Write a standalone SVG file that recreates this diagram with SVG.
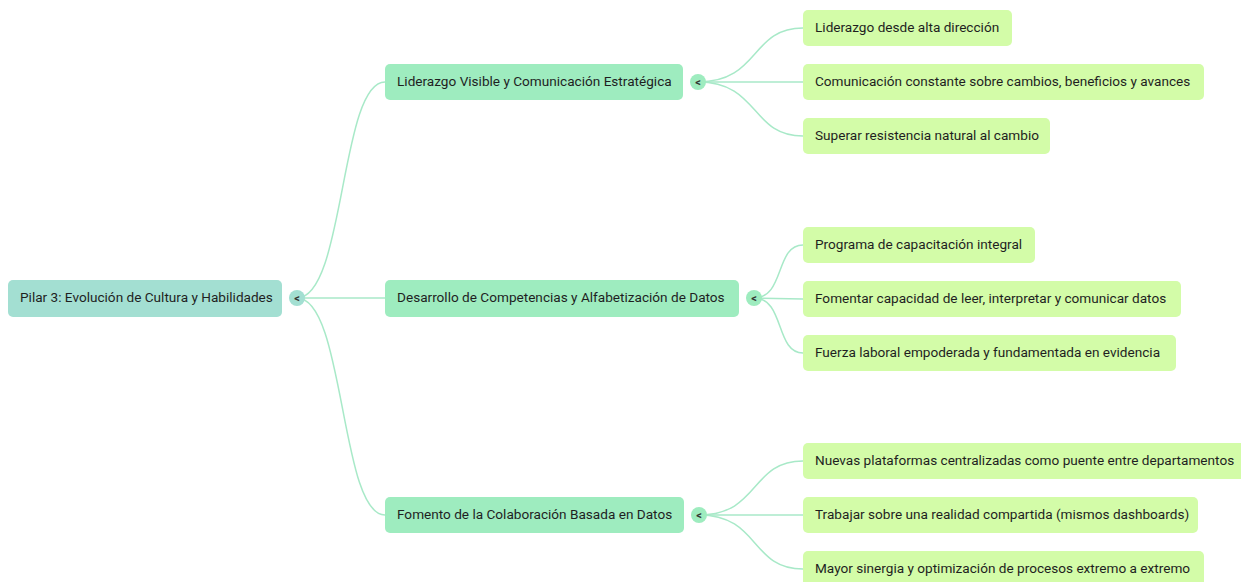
<svg xmlns="http://www.w3.org/2000/svg" width="1241" height="582" viewBox="0 0 1241 582">
<style>
.t{font-family:Roboto,"Noto Sans",sans-serif;font-size:13.6px;fill:#1f1f1f;dominant-baseline:central}
.root{fill:#a3dfd2}
.l1{fill:#9eecbf}
.leaf{fill:#d3fca8}
.c{fill:none;stroke:#a8e9c8;stroke-width:1.5}
.ct{font-family:Roboto,sans-serif;font-size:11px;font-weight:bold;fill:#333;text-anchor:middle;dominant-baseline:central}
</style>
<rect width="1241" height="582" fill="#ffffff"/>
<g id="connectors">
<path class="c" d="M297,298 C345,298 340,82 385,82"/>
<path class="c" d="M297,298 L385,298"/>
<path class="c" d="M297,298 C345,298 340,515 385,515"/>
<path class="c" d="M698,82 C760,82 750,28 803,28"/>
<path class="c" d="M698,82 L803,82"/>
<path class="c" d="M698,82 C760,82 750,136 803,136"/>
<path class="c" d="M754,298 C785,298 775,245 803,245"/>
<path class="c" d="M754,298 L803,299"/>
<path class="c" d="M754,298 C785,298 775,353 803,353"/>
<path class="c" d="M699,515 C760,515 750,461 803,461"/>
<path class="c" d="M699,515 L803,515"/>
<path class="c" d="M699,515 C760,515 750,569 803,569"/>
</g>
<g id="root">
<rect class="root" x="8" y="280" width="274" height="37" rx="5"/>
<text class="t" x="20" y="297">Pilar 3: Evolución de Cultura y Habilidades</text>
<circle class="root" cx="297" cy="298" r="8"/>
<text class="ct" x="297" y="298">&lt;</text>
</g>
<g id="n1">
<rect class="l1" x="385" y="64" width="298" height="36" rx="5"/>
<text class="t" x="397" y="81">Liderazgo Visible y Comunicación Estratégica</text>
<circle class="l1" cx="698" cy="82" r="8"/>
<text class="ct" x="698" y="82">&lt;</text>
</g>
<g id="n2">
<rect class="l1" x="385" y="280" width="354" height="37" rx="5"/>
<text class="t" x="397" y="297">Desarrollo de Competencias y Alfabetización de Datos</text>
<circle class="l1" cx="754" cy="298" r="8"/>
<text class="ct" x="754" y="298">&lt;</text>
</g>
<g id="n3">
<rect class="l1" x="385" y="497" width="299" height="36" rx="5"/>
<text class="t" x="397" y="514">Fomento de la Colaboración Basada en Datos</text>
<circle class="l1" cx="699" cy="515" r="8"/>
<text class="ct" x="699" y="515">&lt;</text>
</g>
<g id="leaf1">
<rect class="leaf" x="803" y="10" width="209" height="36" rx="5"/>
<text class="t" x="815" y="27">Liderazgo desde alta dirección</text>
</g>
<g id="leaf2">
<rect class="leaf" x="803" y="64" width="401" height="36" rx="5"/>
<text class="t" x="815" y="81">Comunicación constante sobre cambios, beneficios y avances</text>
</g>
<g id="leaf3">
<rect class="leaf" x="803" y="118" width="247" height="36" rx="5"/>
<text class="t" x="815" y="135">Superar resistencia natural al cambio</text>
</g>
<g id="leaf4">
<rect class="leaf" x="803" y="227" width="232" height="36" rx="5"/>
<text class="t" x="815" y="244">Programa de capacitación integral</text>
</g>
<g id="leaf5">
<rect class="leaf" x="803" y="281" width="378" height="36" rx="5"/>
<text class="t" x="815" y="298">Fomentar capacidad de leer, interpretar y comunicar datos</text>
</g>
<g id="leaf6">
<rect class="leaf" x="803" y="335" width="373" height="36" rx="5"/>
<text class="t" x="815" y="352">Fuerza laboral empoderada y fundamentada en evidencia</text>
</g>
<g id="leaf7">
<rect class="leaf" x="803" y="443" width="444" height="36" rx="5"/>
<text class="t" x="815" y="460">Nuevas plataformas centralizadas como puente entre departamentos</text>
</g>
<g id="leaf8">
<rect class="leaf" x="803" y="497" width="395" height="36" rx="5"/>
<text class="t" x="815" y="514">Trabajar sobre una realidad compartida (mismos dashboards)</text>
</g>
<g id="leaf9">
<rect class="leaf" x="803" y="551" width="401" height="36" rx="5"/>
<text class="t" x="815" y="568">Mayor sinergia y optimización de procesos extremo a extremo</text>
</g>
</svg>
